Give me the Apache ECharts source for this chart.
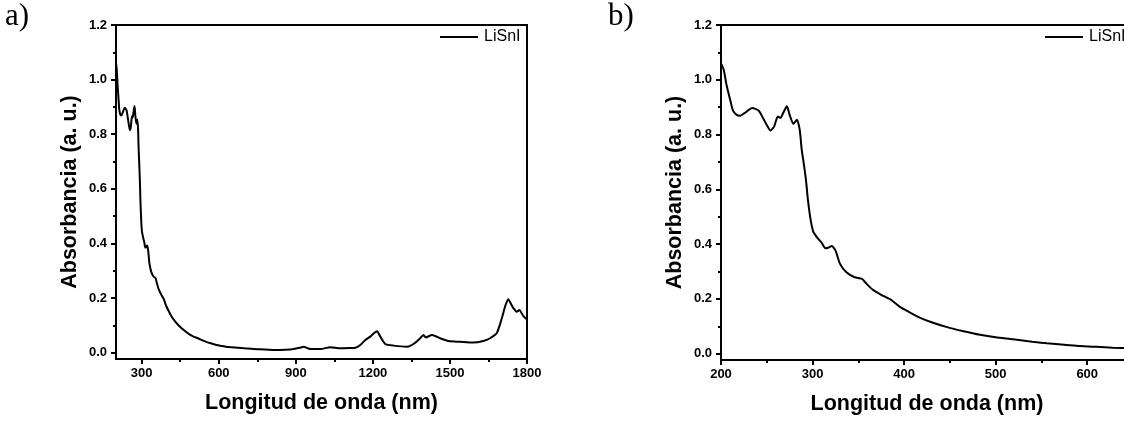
<!DOCTYPE html>
<html>
<head>
<meta charset="utf-8">
<script src="https://cdn.jsdelivr.net/npm/echarts@6/dist/echarts.min.js"></script>
<style>
html,body{margin:0;padding:0;overflow:hidden;background:#fff;width:1124px;height:421px;}
#c{width:1140px;height:421px;}
</style>
</head>
<body>
<div id="c"></div>
<script>
// Data
const wavelength = [200,203,206,210,213,217,221,226,234,241,246,250,254,258,262,265,268,272,275,279,283,286,288,291,293,295,298,301,306,310,314,317,321,325,330,337,346,354,359,366,375,386,395,405,417,430,446,465,483,500,519,540,556,575,592,610,628,650,700,750,813,860,892,915,931,945,957,996,1034,1073,1110,1132,1151,1170,1190,1205,1216,1229,1248,1281,1333,1358,1384,1397,1406,1430,1462,1494,1540,1591,1630,1656,1682,1702,1715,1727,1737,1747,1760,1770,1786,1800];
const absorbance = [1.06,1.037,0.982,0.927,0.888,0.872,0.869,0.879,0.897,0.888,0.860,0.835,0.815,0.829,0.866,0.861,0.880,0.903,0.872,0.839,0.854,0.817,0.75,0.68,0.628,0.56,0.487,0.444,0.42,0.405,0.385,0.387,0.393,0.377,0.328,0.297,0.279,0.273,0.255,0.233,0.215,0.196,0.172,0.153,0.132,0.115,0.098,0.082,0.069,0.060,0.053,0.044,0.038,0.033,0.028,0.025,0.022,0.020,0.016,0.013,0.010,0.011,0.0135,0.018,0.022,0.017,0.0135,0.0135,0.020,0.016,0.017,0.018,0.028,0.046,0.059,0.072,0.079,0.059,0.032,0.026,0.022,0.032,0.053,0.065,0.056,0.065,0.053,0.043,0.040,0.037,0.043,0.053,0.071,0.126,0.17,0.196,0.18,0.163,0.150,0.156,0.134,0.122];
const seriesName = 'LiSnI';
const yTicks = [0,0.2,0.4,0.6,0.8,1.0,1.2];
const yMinorTicks = [0.1,0.3,0.5,0.7,0.9,1.1];
const xTicksA = [300,600,900,1200,1500,1800];
const xMinorTicksA = [450,750,1050,1350,1650];
const xTicksB = [200,300,400,500,600];
const xMinorTicksB = [250,350,450,550];
const yName = 'Absorbancia (a. u.)';
const xName = 'Longitud de onda (nm)';

const pts = wavelength.map((w,i)=>[w,absorbance[i]]);
const FONT = 'Liberation Sans, Arial, sans-serif';
const lbl = {fontFamily:FONT,fontWeight:'bold',fontSize:13,color:'#000'};
const nameStyle = {fontFamily:FONT,fontWeight:'bold',fontSize:21.5,color:'#000'};

function xAxes(gi,min,max,ticks,minor){
  return [
    {type:'value',gridIndex:gi,min:min,max:max,position:'bottom',
     axisLine:{show:true,onZero:false,lineStyle:{color:'#000',width:2}},
     axisTick:{show:true,inside:false,length:5,lineStyle:{color:'#000',width:2},customValues:ticks},
     axisLabel:Object.assign({margin:8,customValues:ticks,formatter:v=>String(Math.round(v))},lbl),
     splitLine:{show:false},
     name:xName,nameLocation:'middle',nameGap:33,nameTextStyle:nameStyle},
    {type:'value',gridIndex:gi,min:min,max:max,position:'bottom',
     axisLine:{show:false,onZero:false},
     axisTick:{show:true,inside:false,length:3,lineStyle:{color:'#000',width:2},customValues:minor},
     axisLabel:{show:false},splitLine:{show:false}}
  ];
}
function yAxes(gi){
  return [
    {type:'value',gridIndex:gi,min:-0.023,max:1.2,position:'left',
     axisLine:{show:true,onZero:false,lineStyle:{color:'#000',width:2}},
     axisTick:{show:true,inside:false,length:5,lineStyle:{color:'#000',width:2},customValues:yTicks},
     axisLabel:Object.assign({margin:9,customValues:yTicks,formatter:v=>v.toFixed(1)},lbl),
     splitLine:{show:false},
     name:yName,nameLocation:'middle',nameGap:35,nameTextStyle:nameStyle},
    {type:'value',gridIndex:gi,min:-0.023,max:1.2,position:'left',
     axisLine:{show:false,onZero:false},
     axisTick:{show:true,inside:false,length:3,lineStyle:{color:'#000',width:2},customValues:yMinorTicks},
     axisLabel:{show:false},splitLine:{show:false}}
  ];
}
const legendBase = {data:[seriesName],orient:'horizontal',icon:'rect',itemWidth:38,itemHeight:2,itemGap:4,
  textStyle:{fontFamily:FONT,fontSize:16,color:'#000',padding:[0,0,0,1]},selectedMode:false,padding:0};

const chart = echarts.init(document.getElementById('c'),null,{renderer:'canvas'});
chart.setOption({
  animation:false,
  backgroundColor:'#fff',
  grid:[
    {left:116,top:25,width:411,height:334,show:true,borderColor:'#000',borderWidth:2,backgroundColor:'transparent'},
    {left:721,top:25,width:412,height:335,show:true,borderColor:'#000',borderWidth:2,backgroundColor:'transparent'}
  ],
  xAxis:[...xAxes(0,200,1800,xTicksA,xMinorTicksA),...xAxes(1,200,650,xTicksB,xMinorTicksB)],
  yAxis:[...yAxes(0),...yAxes(1)],
  legend:[
    Object.assign({left:440,top:29},legendBase),
    Object.assign({left:1045,top:29},legendBase)
  ],
  graphic:[
    {type:'text',left:5,top:1,style:{text:'a)',font:'31px "Liberation Serif", "DejaVu Serif", serif',fill:'#000'}},
    {type:'text',left:608,top:1,style:{text:'b)',font:'31px "Liberation Serif", "DejaVu Serif", serif',fill:'#000'}}
  ],
  series:[
    {type:'line',name:seriesName,xAxisIndex:0,yAxisIndex:0,data:pts,showSymbol:false,smooth:0.2,
     lineStyle:{color:'#000',width:2},itemStyle:{color:'#000'},clip:true},
    {type:'line',name:seriesName,xAxisIndex:2,yAxisIndex:2,data:pts,showSymbol:false,smooth:0.2,
     lineStyle:{color:'#000',width:2},itemStyle:{color:'#000'},clip:true}
  ]
});
</script>
</body>
</html>
